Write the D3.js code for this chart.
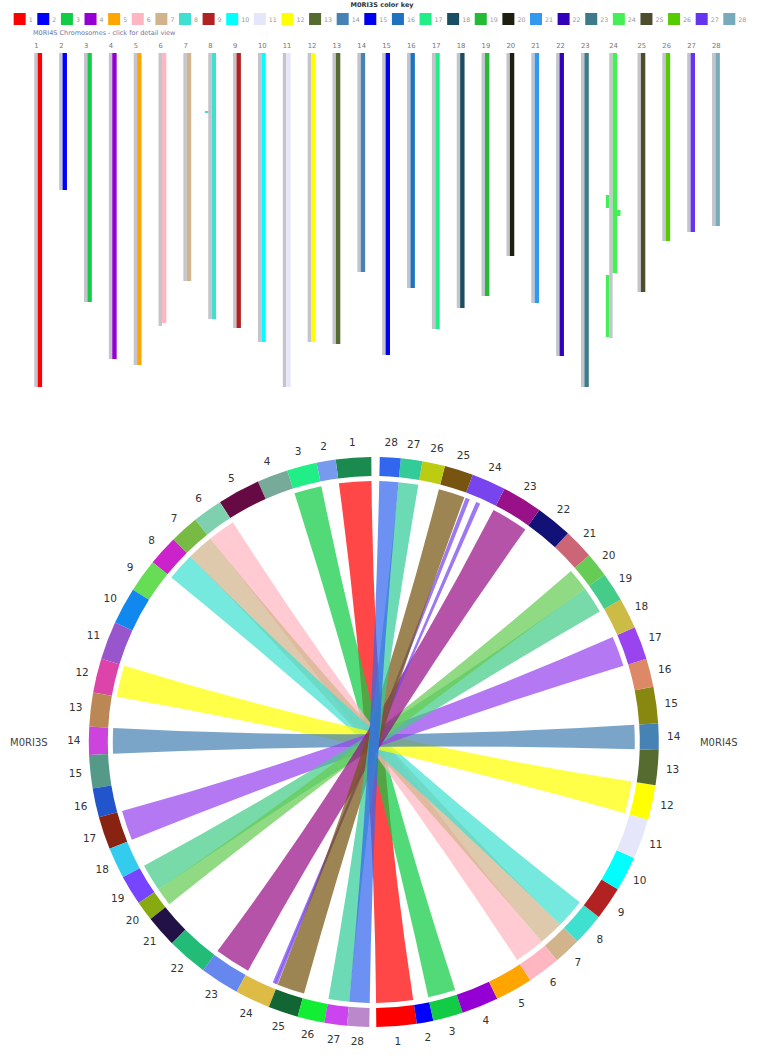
<!DOCTYPE html>
<html>
<head>
<meta charset="utf-8">
<script src="https://cdn.jsdelivr.net/npm/d3@7"></script>
<style>
body { margin: 0; background: #fff; font-family: "DejaVu Sans", sans-serif; }
</style>
</head>
<body>
<script>
var width = 764;
var height = 1064;

var chromNames = d3.range(1, 29).map(String);

var m3Lengths = [29.7, 16.1, 25.2, 26.0, 35.9, 25.2, 24.4, 25.6, 28.1, 31.0, 32.2, 28.9, 28.5, 23.5,
                 28.1, 24.4, 27.7, 26.0, 25.2, 16.5, 26.8, 34.3, 33.0, 29.7, 25.2, 22.7, 19.0, 18.6];
var m4Lengths = [33.4, 13.7, 24.9, 30.6, 31.2, 27.3, 22.8, 26.6, 27.5, 28.9, 33.4, 28.9, 29.1, 21.9,
                 30.2, 23.5, 27.6, 25.5, 24.3, 20.3, 25.0, 30.3, 33.4, 28.5, 23.9, 18.8, 17.9, 17.3];

// M0RI3S colour key (top panel)
var keyColors = ["#ff0000", "#0000ff", "#11cc44", "#9400d3", "#ffa500", "#ffb6c1", "#d2b48c",
                 "#40e0d0", "#b22222", "#00ffff", "#e6e6fa", "#ffff00", "#556b2f", "#4682b4",
                 "#0000ee", "#1f72bf", "#22ee88", "#1b4d63", "#22bb33", "#1f1f0f", "#3399ee",
                 "#3300bb", "#3f7a8a", "#44ee55", "#4d4d2e", "#55cc00", "#6633ee", "#77aabb"];
// ring colours
var m3RingColors = ["#1a8a4e", "#7799ee", "#22ee88", "#77aa99", "#660a44", "#7fd0ae", "#77bb44",
                    "#cc22cc", "#66dd55", "#1188ee", "#9955cc", "#dd44aa", "#bb8855", "#cc44dd",
                    "#559988", "#2255cc", "#882211", "#33ccee", "#7744ff", "#88aa11", "#221144",
                    "#22bb77", "#6688ee", "#ddbb44", "#116633", "#11ee33", "#cc44ee", "#bb88cc"];
var m4RingColors = ["#ff0000", "#0000ff", "#11cc44", "#9400d3", "#ffa500", "#ffb6c1", "#d2b48c",
                    "#40e0d0", "#b22222", "#00ffff", "#e6e6fa", "#ffff00", "#556b2f", "#4682b4",
                    "#888811", "#dd8866", "#9944ee", "#ccbb44", "#44cc88", "#66cc55", "#cc6677",
                    "#111177", "#991188", "#7744ee", "#775511", "#bbcc11", "#33cc99", "#3366ee"];

// synteny blocks on M0RI4S chromosomes: [m4 chrom, start, end, m3 chrom, lane]
var m4Blocks = [
    [1, 0, 33.4, 1, 1], [2, 0, 13.7, 2, 1], [3, 0, 24.9, 3, 1], [4, 0, 30.6, 4, 1],
    [5, 0, 31.2, 5, 1], [6, 0, 27.0, 6, 1], [7, 0, 22.8, 7, 1], [8, 0, 26.6, 8, 1],
    [9, 0, 27.5, 9, 1], [10, 0, 28.9, 10, 1], [11, 0, 33.4, 11, 1], [12, 0, 28.9, 12, 1],
    [13, 0, 29.1, 13, 1], [14, 0, 21.9, 14, 1], [15, 0, 30.2, 15, 1], [16, 0, 23.5, 16, 1],
    [17, 0, 27.6, 17, 1], [18, 0, 25.5, 18, 1], [19, 0, 24.3, 19, 1], [20, 0, 20.3, 20, 1],
    [21, 0, 25.0, 21, 1], [22, 0, 30.3, 22, 1], [23, 0, 33.4, 23, 1],
    [24, 0, 22.0, 24, 1], [24, 14.2, 15.5, 24, -1], [24, 15.7, 16.3, 24, 2], [24, 22.2, 28.4, 24, -1],
    [25, 0, 23.9, 25, 1], [26, 0, 18.8, 26, 1], [27, 0, 17.9, 27, 1], [28, 0, 17.3, 28, 1]
];
// tiny marks left of the bar: [m4 chrom, start, end, m3 chrom]
var m4Marks = [[8, 5.8, 6.0, 8]];

// circos links: [m3 chrom, start, end, m4 chrom, start, end]
var links = [
    [1, 0, 29.7, 1, 0, 33.4],
    [3, 0, 25.2, 3, 0, 24.9],
    [6, 0, 25.2, 6, 0, 27.3],
    [7, 0, 24.4, 7, 0, 22.8],
    [8, 0, 25.6, 8, 0, 26.6],
    [12, 0, 28.9, 12, 0, 28.9],
    [14, 0, 23.5, 14, 0, 21.9],
    [17, 0, 27.7, 17, 0, 27.6],
    [19, 0, 25.2, 19, 0, 24.3],
    [20, 0, 16.5, 20, 0, 20.3],
    [23, 0, 33.0, 23, 0, 33.4],
    [24, 26.8, 29.4, 24, 23.4, 27.3],
    [24, 24.8, 27.5, 24, 13.3, 17.2],
    [25, 0, 25.2, 25, 0, 23.9],
    [27, 0, 19.0, 27, 0, 17.9],
    [28, 0, 18.6, 28, 0, 17.3]
];

var svg = d3.select("body")
    .append("svg")
    .attr("width", width)
    .attr("height", height);

//Colour key
svg.append("text")
    .attr("x", 382)
    .attr("y", 7)
    .attr("text-anchor", "middle")
    .style("font-size", "6.5px")
    .style("font-weight", "bold")
    .attr("fill", "#333")
    .text("M0RI3S color key");

var key = svg.append("g");
var items = key.selectAll("g")
    .data(chromNames)
    .enter()
    .append("g");
items.append("rect")
    .attr("y", 13)
    .attr("width", 12)
    .attr("height", 12)
    .attr("fill", function(d, i) { return keyColors[i]; });
items.append("text")
    .attr("x", 15)
    .attr("y", 22)
    .style("font-size", "6.3px")
    .attr("fill", "#999")
    .text(function(d) { return d; });

var cursor = 0;
var itemX = [];
items.each(function() {
    itemX.push(cursor);
    cursor += 15 + this.querySelector("text").getComputedTextLength() + 4.6;
});
var keyStart = 380 - (cursor - 4.6) / 2;
items.attr("transform", function(d, i) { return "translate(" + (keyStart + itemX[i]) + ",0)"; });

//Chromosome bars
svg.append("text")
    .attr("x", 33)
    .attr("y", 35)
    .style("font-size", "6.5px")
    .attr("fill", "#7373a8")
    .text("M0RI4S Chromosomes - click for detail view");

var barY = d3.scaleLinear()
    .domain([0, d3.max(m4Lengths)])
    .range([53, 387]);

var laneW = 3.4, colorW = 4.4, colStep = 24.85;
var colX = [];
var cx0 = 34.3;
m4Lengths.forEach(function(l, i) {
    var blocks = m4Blocks.filter(function(b) { return b[0] === i + 1; });
    var left = blocks.some(function(b) { return b[4] < 0; }) ? laneW : 0;
    var right = blocks.some(function(b) { return b[4] > 1; }) ? laneW : 0;
    cx0 += left;
    colX.push(cx0);
    cx0 += colStep + right;
});

function laneX(chr, lane) {
    var x = colX[chr - 1];
    if (lane < 0) return x - laneW;
    if (lane === 1) return x + laneW;
    return x + laneW + colorW;
}

var bars = svg.append("g");
bars.selectAll("text")
    .data(chromNames)
    .enter()
    .append("text")
    .attr("x", function(d, i) { return colX[i]; })
    .attr("y", 48)
    .style("font-size", "6.8px")
    .attr("fill", "#777")
    .text(function(d) { return d; });

bars.selectAll("rect.chrom")
    .data(m4Lengths)
    .enter()
    .append("rect")
    .attr("class", "chrom")
    .attr("x", function(d, i) { return colX[i]; })
    .attr("y", barY(0))
    .attr("width", laneW)
    .attr("height", function(d) { return barY(d) - barY(0); })
    .attr("fill", "#c4c4cc");

bars.selectAll("rect.block")
    .data(m4Blocks)
    .enter()
    .append("rect")
    .attr("class", "block")
    .attr("x", function(d) { return laneX(d[0], d[4]); })
    .attr("y", function(d) { return barY(d[1]); })
    .attr("width", function(d) { return d[4] === 1 ? colorW : laneW; })
    .attr("height", function(d) { return barY(d[2]) - barY(d[1]); })
    .attr("fill", function(d) { return keyColors[d[3] - 1]; });

bars.selectAll("rect.mark")
    .data(m4Marks)
    .enter()
    .append("rect")
    .attr("class", "mark")
    .attr("x", function(d) { return laneX(d[0], -1); })
    .attr("y", function(d) { return barY(d[1]); })
    .attr("width", laneW)
    .attr("height", function(d) { return Math.max(1.5, barY(d[2]) - barY(d[1])); })
    .attr("fill", function(d) { return keyColors[d[3] - 1]; });

//Circos plot
var cx = 373.8, cy = 742;
var ringOuter = 285, ringInner = 266, linkRadius = 261, labelRadius = 300;
var deg = Math.PI / 180;

function offsets(lengths) {
    var o = [0];
    lengths.forEach(function(l) { o.push(o[o.length - 1] + l); });
    return o;
}
var m3Off = offsets(m3Lengths);
var m4Off = offsets(m4Lengths);

// M0RI3S runs down the left half, M0RI4S up the right half
var leftAngle = d3.scaleLinear()
    .domain([0, d3.sum(m3Lengths)])
    .range([-0.5 * deg, -179.1 * deg]);
var rightAngle = d3.scaleLinear()
    .domain([0, d3.sum(m4Lengths)])
    .range([179.5 * deg, 1.2 * deg]);

function m3Pos(chr, p) { return leftAngle(m3Off[chr - 1] + p); }
function m4Pos(chr, p) { return rightAngle(m4Off[chr - 1] + p); }

var segs = m3Lengths.map(function(l, i) {
    return {name: chromNames[i], a0: m3Pos(i + 1, 0), a1: m3Pos(i + 1, l), color: m3RingColors[i]};
}).concat(m4Lengths.map(function(l, i) {
    return {name: chromNames[i], a0: m4Pos(i + 1, 0), a1: m4Pos(i + 1, l), color: m4RingColors[i]};
}));

var circ = svg.append("g")
    .attr("transform", "translate(" + cx + "," + cy + ")");

var ringArc = d3.arc()
    .innerRadius(ringInner)
    .outerRadius(ringOuter);

function span(a, b) {
    return {startAngle: Math.min(a, b), endAngle: Math.max(a, b)};
}
var ribbon = d3.ribbon().radius(linkRadius);

circ.append("g")
    .selectAll("path")
    .data(links)
    .enter()
    .append("path")
    .attr("d", function(d) {
        return ribbon({
            source: span(m3Pos(d[0], d[1]), m3Pos(d[0], d[2])),
            target: span(m4Pos(d[3], d[4]), m4Pos(d[3], d[5]))
        });
    })
    .attr("fill", function(d) { return m4RingColors[d[3] - 1]; })
    .attr("fill-opacity", 0.72);

circ.append("g")
    .selectAll("path")
    .data(segs)
    .enter()
    .append("path")
    .attr("d", function(d) { return ringArc({startAngle: d.a0, endAngle: d.a1}); })
    .attr("fill", function(d) { return d.color; });

circ.append("g")
    .selectAll("text")
    .data(segs)
    .enter()
    .append("text")
    .attr("x", function(d) { return labelRadius * Math.sin((d.a0 + d.a1) / 2); })
    .attr("y", function(d) { return -labelRadius * Math.cos((d.a0 + d.a1) / 2); })
    .attr("dy", "0.35em")
    .attr("text-anchor", "middle")
    .style("font-size", "10.5px")
    .attr("fill", "#333")
    .text(function(d) { return d.name; });

circ.append("text")
    .attr("x", -345)
    .attr("y", 0)
    .attr("dy", "0.35em")
    .attr("text-anchor", "middle")
    .style("font-size", "10px")
    .attr("fill", "#444")
    .text("M0RI3S");
circ.append("text")
    .attr("x", 345)
    .attr("y", 0)
    .attr("dy", "0.35em")
    .attr("text-anchor", "middle")
    .style("font-size", "10px")
    .attr("fill", "#444")
    .text("M0RI4S");
</script>
</body>
</html>
